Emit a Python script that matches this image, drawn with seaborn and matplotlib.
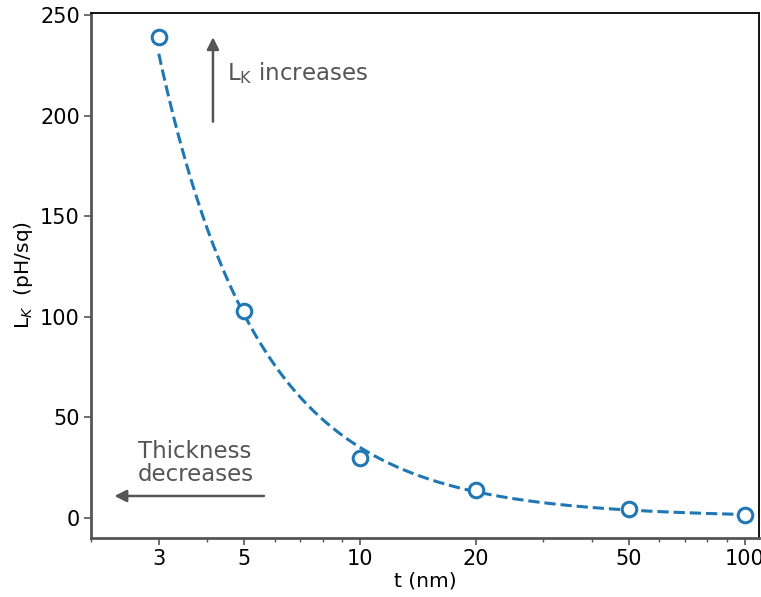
import numpy as np
import pandas as pd
import matplotlib
matplotlib.use("Agg")
import matplotlib.pyplot as plt
from matplotlib.ticker import FixedLocator, FixedFormatter, LogLocator, NullFormatter
import seaborn as sns

# Measured kinetic inductance versus film thickness
thickness_nm = [3, 5, 10, 20, 50, 100]
kinetic_inductance = [239, 103, 30, 14, 4.3, 1.6]
xtick_values = [3, 5, 10, 20, 50, 100]
xtick_labels = ["3", "5", "10", "20", "50", "100"]

sns.set_style("ticks")
plt.rcParams["font.family"] = ["DejaVu Sans"]
plt.rcParams["mathtext.fontset"] = "dejavusans"

blue = "#1f77b4"
gray = "#555555"

df = pd.DataFrame({"t": thickness_nm, "L": kinetic_inductance})

# Smooth trend: quadratic fit in log-log space
coef = np.polyfit(np.log(df["t"]), np.log(df["L"]), 2)
t_fit = np.logspace(np.log10(min(thickness_nm)), np.log10(max(thickness_nm)), 300)
fit_df = pd.DataFrame({"t": t_fit, "L": np.exp(np.polyval(coef, np.log(t_fit)))})

fig = plt.figure(figsize=(7.61, 5.97), dpi=100)
ax = fig.add_axes([0.1196, 0.0988, 0.8778, 0.8794])

sns.lineplot(data=fit_df, x="t", y="L", ax=ax, color=blue, linestyle="--",
             linewidth=2.2, zorder=2)
sns.scatterplot(data=df, x="t", y="L", ax=ax, s=110, facecolor="white",
                edgecolor=blue, linewidth=2.2, zorder=3)

ax.set_xscale("log")
ax.set_xlim(2, 109)
ax.set_ylim(-10, 251)
ax.xaxis.set_major_locator(FixedLocator(xtick_values))
ax.xaxis.set_major_formatter(FixedFormatter(xtick_labels))
ax.xaxis.set_minor_locator(LogLocator(base=10, subs=np.arange(2, 10)))
ax.xaxis.set_minor_formatter(NullFormatter())
ax.set_yticks([0, 50, 100, 150, 200, 250])

ax.set_xlabel("t (nm)", fontsize=14.5, labelpad=2, color="black")
ax.set_ylabel("L$_K$  (pH/sq)", fontsize=14.5, labelpad=4, color="black")
ax.tick_params(axis="both", which="major", labelsize=15, length=5,
               width=1.2, color=gray, pad=3, labelcolor="black")
ax.tick_params(axis="x", which="minor", length=3, width=1, color=gray)

for side in ("left", "bottom"):
    ax.spines[side].set_color(gray)
    ax.spines[side].set_linewidth(2)
for side in ("top", "right"):
    ax.spines[side].set_color("black")
    ax.spines[side].set_linewidth(1.3)

# Annotations
ax.annotate("", xy=(4.15, 239), xytext=(4.15, 197),
            arrowprops=dict(arrowstyle="-|>", color=gray, lw=1.8,
                            mutation_scale=18, shrinkA=0, shrinkB=0))
ax.text(4.5, 221, "L$_\\mathrm{K}$ increases", fontsize=16.5, color=gray,
        va="center", ha="left")

ax.annotate("", xy=(2.3, 10.9), xytext=(5.63, 10.9),
            arrowprops=dict(arrowstyle="-|>", color=gray, lw=1.8,
                            mutation_scale=18, shrinkA=0, shrinkB=0))
ax.text(2.65, 27.3, "Thickness\ndecreases", fontsize=16.5, color=gray,
        va="center", ha="left", linespacing=1.05)

fig.savefig("out.png", dpi=100)
